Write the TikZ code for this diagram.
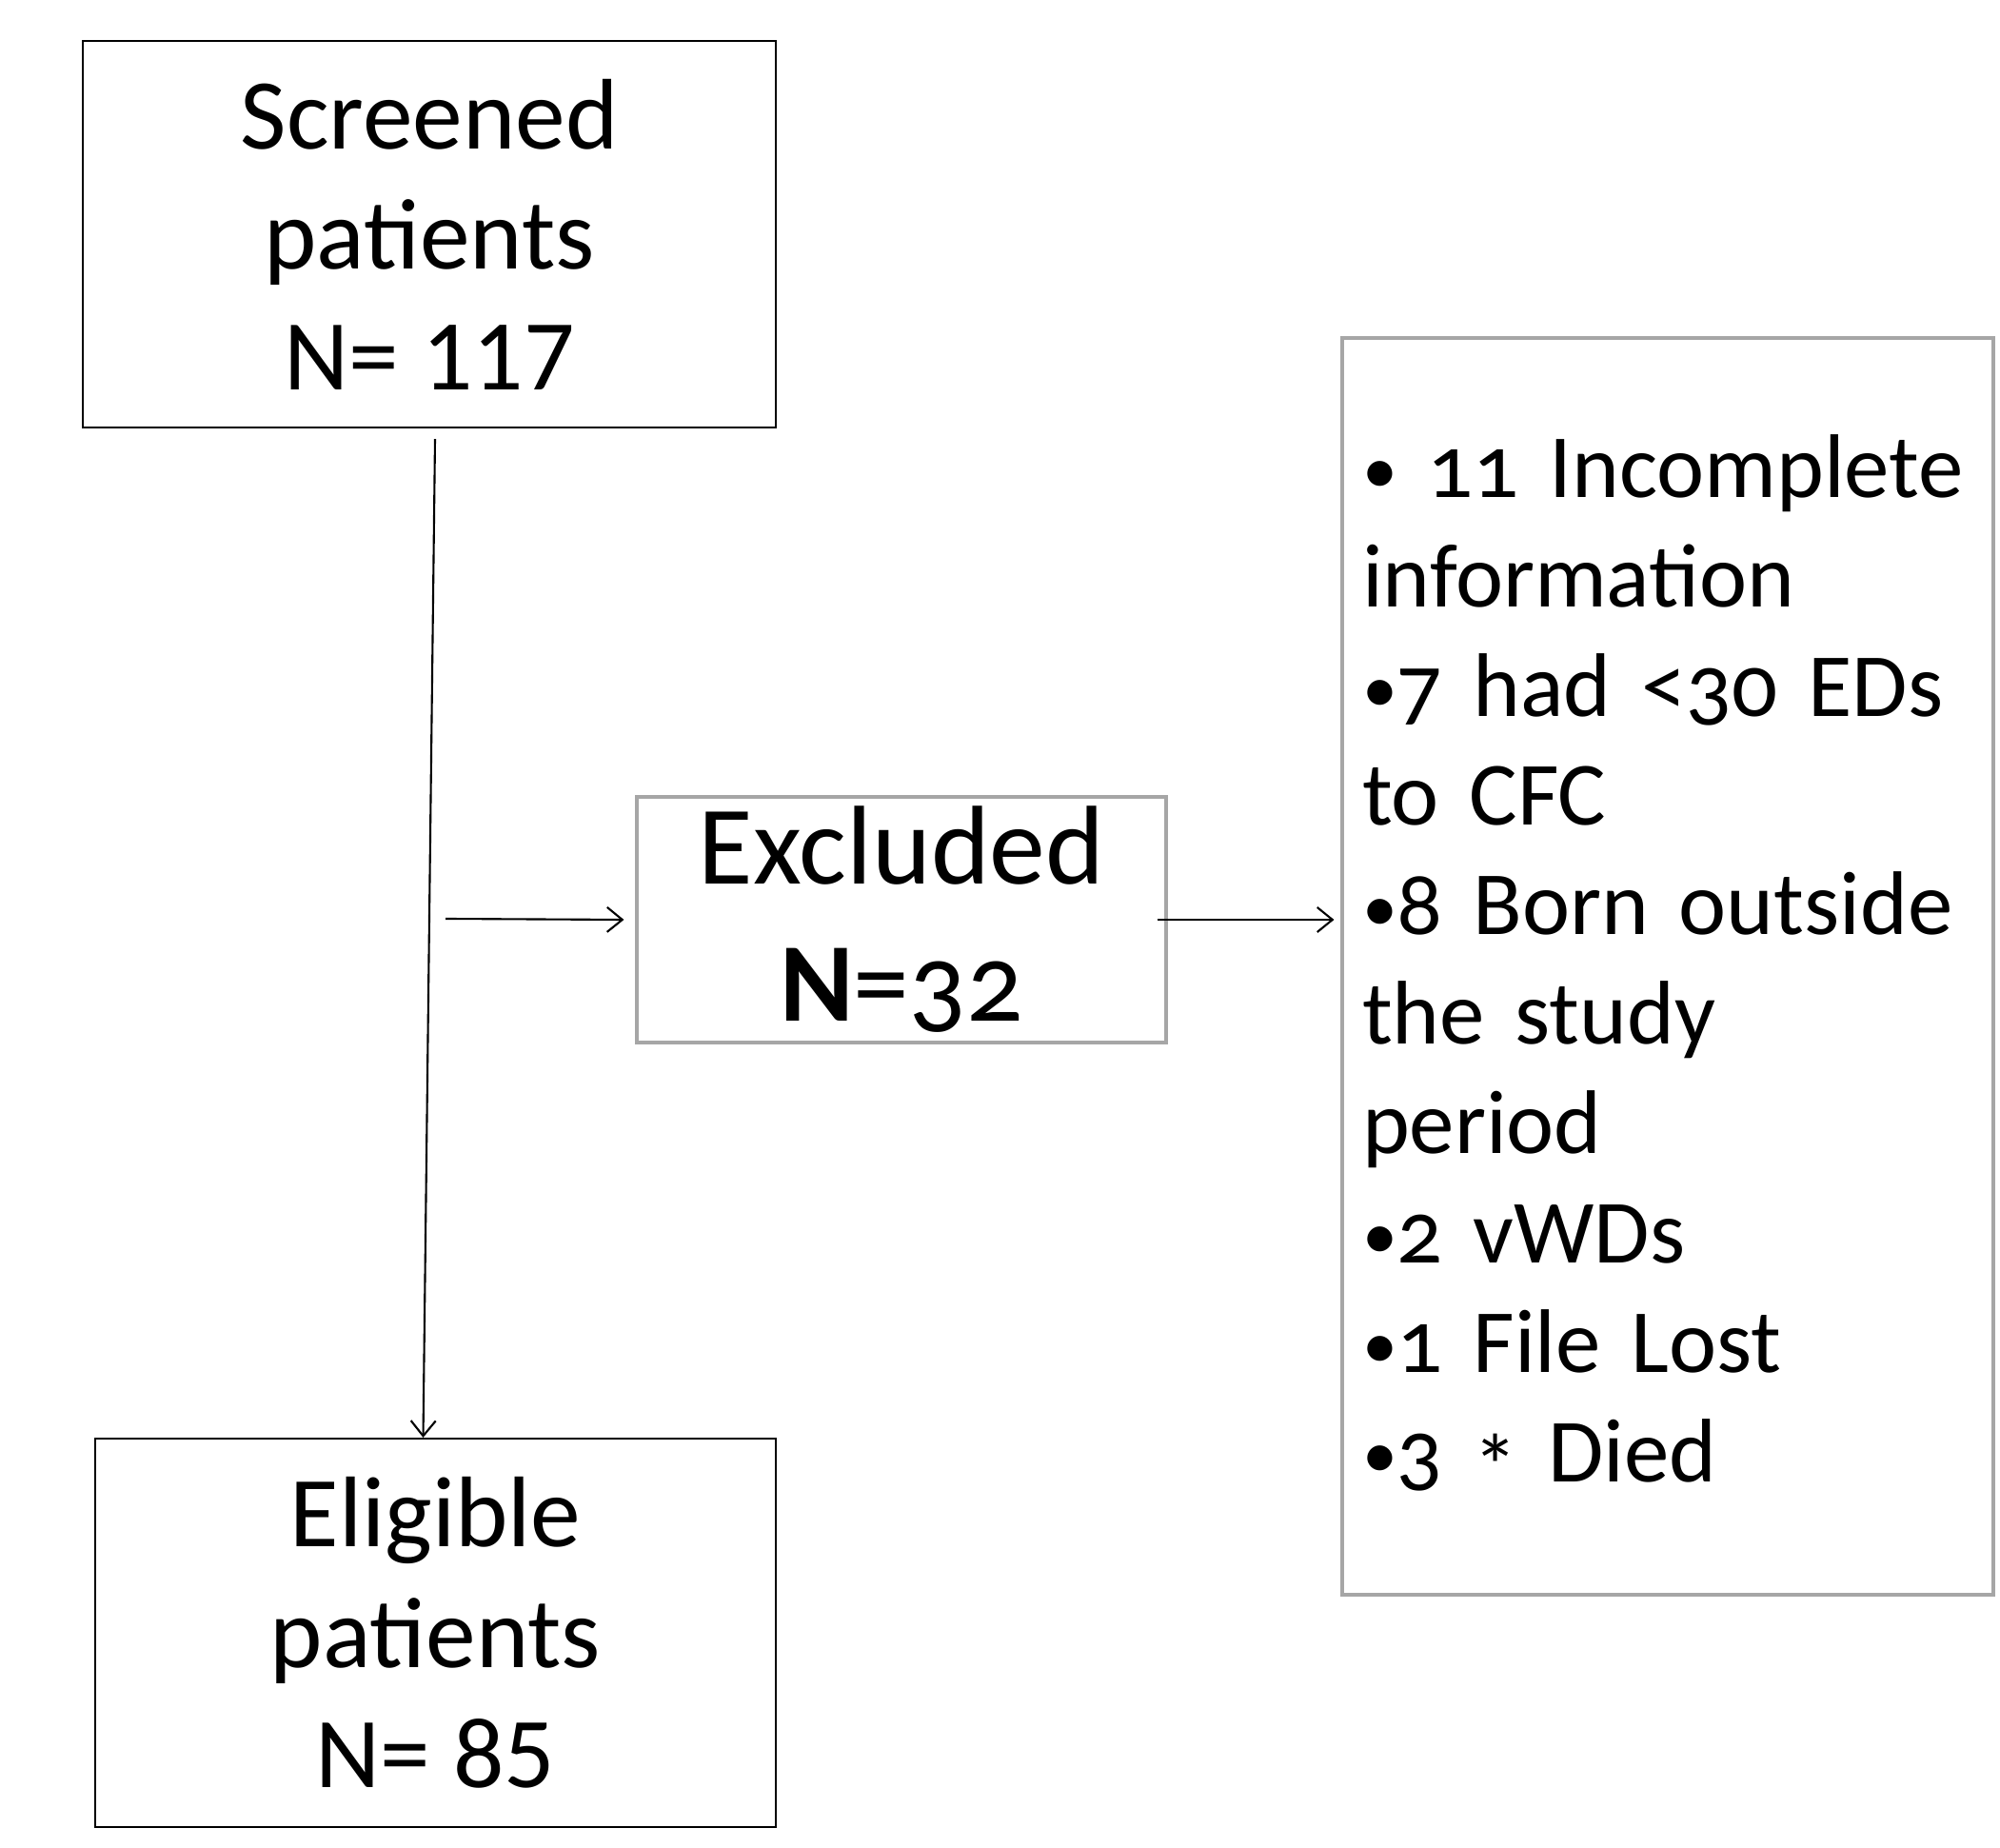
\documentclass[tikz,border=0pt]{standalone}
\usepackage{fontspec}
\setmainfont{Carlito}
\newfontfamily\oldfig{Carlito}[Numbers=OldStyle]
\usetikzlibrary{positioning, arrows.meta, calc}
\definecolor{boxgray}{HTML}{A6A6A6}
\newcommand{\bul}{\raisebox{0.04em}{\scalebox{0.78}{•}}}
\newcommand{\tightsp}{\fontdimen2\font=0.16em\relax}

\begin{document}
\begin{tikzpicture}[
    mainbox/.style={rectangle, draw=black, line width=0.6pt, inner sep=0pt, align=center,
      font=\fontsize{30}{36}\selectfont},
    greybox/.style={rectangle, draw=boxgray, line width=0.9pt, inner sep=0pt},
    arr/.style={-{Straight Barb[length=1.6mm, width=2.6mm]}, line width=0.6pt},
  ]
    \useasboundingbox (0,0) rectangle (21.01,-19.41);

    \node[mainbox, minimum width=7.28cm, minimum height=4.06cm] (screened) at (4.51,-2.46)
      {Screened\\patients\\N= 117};
    \node[mainbox, minimum width=7.15cm, minimum height=4.08cm] (eligible) at (4.575,-17.15)
      {\oldfig Eligible\\patients\\N= 85};

    \node[greybox, minimum width=5.56cm, minimum height=2.58cm, align=center,
      font=\oldfig\fontsize{33.5}{41}\selectfont] (excluded) at (9.47,-9.66)
      {Excluded\\\textbf{N}=32};

    \node[greybox, minimum width=6.84cm, minimum height=13.2cm, text width=6.42cm,
      align=left, font=\oldfig\fontsize{27}{32.7}\selectfont] (reasons) at (17.52,-10.15)
      {\tightsp\bul{} 11 Incomplete\\information\\\bul7 had <30 EDs\\to CFC\\\bul8 Born outside\\the study\\period\\\bul2 vWDs\\\bul1 File Lost\\\bul3 \raisebox{-0.18em}{*} Died};

    \coordinate (split) at (4.68,-9.65);

    \draw[arr] ($(screened.south)+(0.06,-0.11)$) -- ($(eligible.north)+(-0.13,0)$);
    \draw[arr] (split) -- ($(excluded.west)+(-0.12,0)$);
    \draw[arr] ($(excluded.east)+(-0.11,0)$) -- ($(excluded.east -| reasons.west)+(-0.07,0)$);
\end{tikzpicture}
\end{document}
